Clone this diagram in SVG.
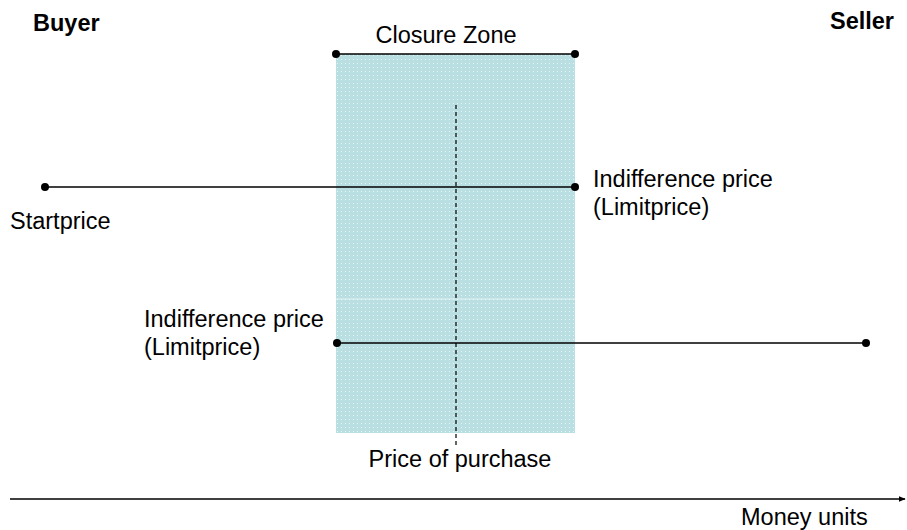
<svg xmlns="http://www.w3.org/2000/svg" width="907" height="530" viewBox="0 0 907 530">
<style>
text{font-family:"Liberation Sans",Arial,sans-serif;font-size:23.5px;fill:#000}
.b{font-weight:bold}
.ln{stroke:#000;stroke-width:1.5;fill:none}
.dot{fill:#000}
</style>
<defs>
<pattern id="dots" width="4" height="4" patternUnits="userSpaceOnUse" x="336" y="54">
<rect width="4" height="4" fill="#b9dfe2"/>
<rect x="1" y="1" width="1" height="1" fill="#e6f3f4"/>
</pattern>
<marker id="arr" viewBox="0 0 10 10" refX="9" refY="5" markerWidth="7" markerHeight="7" markerUnits="userSpaceOnUse" orient="auto">
<path d="M0,1 L10,5 L0,9 z" fill="#000"/>
</marker>
</defs>
<rect width="907" height="530" fill="#fff"/>
<g id="closure-zone">
<rect x="336" y="54" width="239" height="379" fill="url(#dots)"/>
<line x1="336" y1="299" x2="575" y2="299" stroke="#fff" stroke-width="1" opacity="0.6"/>
<text x="446" y="43" text-anchor="middle">Closure Zone</text>
</g>
<g id="labels">
<text id="buyer" class="b" x="33" y="31">Buyer</text>
<text id="seller" class="b" x="830" y="29">Seller</text>
<text id="startprice" x="10" y="229">Startprice</text>
<text id="buyer-limit" x="593" y="187">Indifference price<tspan x="593" y="215">(Limitprice)</tspan></text>
<text id="seller-limit" x="144" y="327">Indifference price<tspan x="144" y="355">(Limitprice)</tspan></text>
<text id="price-purchase" x="460" y="467" text-anchor="middle">Price of purchase</text>
<text id="money-units" x="741" y="525">Money units</text>
</g>
<g id="connectors">
<line class="ln" x1="336" y1="54" x2="575" y2="54"/>
<line class="ln" x1="45" y1="187" x2="575" y2="187"/>
<line class="ln" x1="337" y1="343" x2="866" y2="343"/>
<line x1="456" y1="105" x2="456" y2="448" stroke="#000" stroke-width="1.2" stroke-dasharray="4,3"/>
<line class="ln" x1="10" y1="499" x2="905" y2="499" marker-end="url(#arr)"/>
<circle class="dot" cx="336" cy="54" r="4"/>
<circle class="dot" cx="575" cy="54" r="4"/>
<circle class="dot" cx="45" cy="187" r="4"/>
<circle class="dot" cx="575" cy="187" r="4"/>
<circle class="dot" cx="337" cy="343" r="4"/>
<circle class="dot" cx="866" cy="343" r="4"/>
</g>
</svg>
